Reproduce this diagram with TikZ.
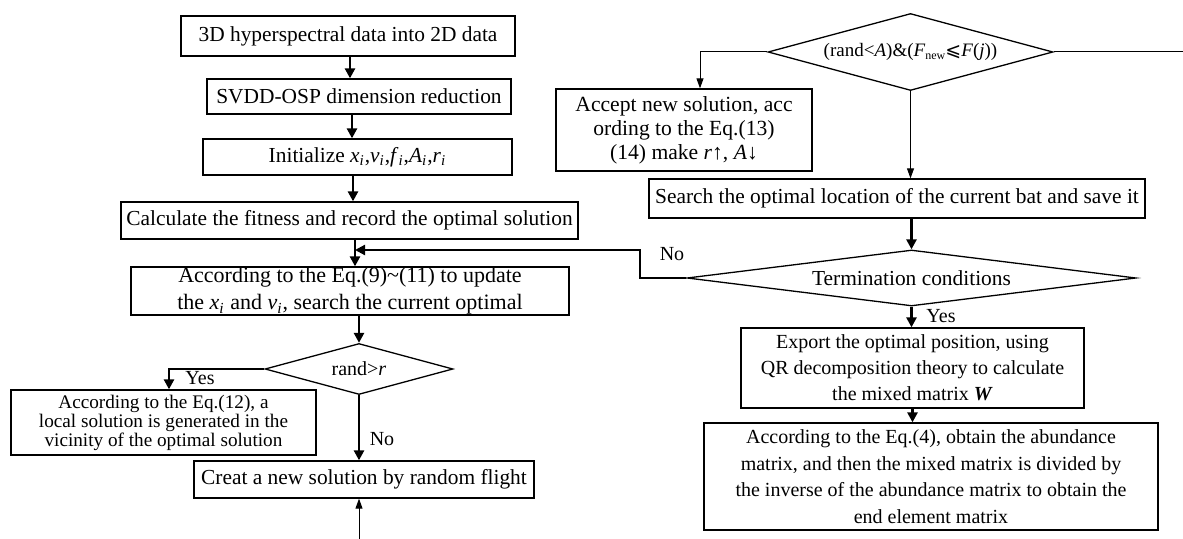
\documentclass[tikz,border=0pt]{standalone}
\usepackage{fontspec}
\setmainfont{Liberation Serif}
\newfontfamily\symfont{DejaVu Sans}
\usetikzlibrary{arrows.meta,shapes.geometric}
\newcommand{\vsub}[2]{\textit{#1}\textsubscript{\textit{#2}}}
\begin{document}
\begin{tikzpicture}[x=0.5pt,y=-0.5pt,
  box/.style={draw, line width=0.65pt, inner sep=0pt, align=center,
    font=\fontsize{10.7}{13}\selectfont},
  dia/.style={draw, diamond, line width=0.65pt, inner sep=0pt, align=center,
    font=\fontsize{10.7}{13}\selectfont},
  lbl/.style={inner sep=0pt, font=\fontsize{10}{12}\selectfont},
  thk/.style={line width=1.3pt, -{Triangle[length=5pt,width=5pt]}},
  thn/.style={line width=0.5pt, -{Triangle[length=5pt,width=3.5pt]}},
  thkline/.style={line width=1.1pt},
  thnline/.style={line width=0.5pt}]
\useasboundingbox (0,0) rectangle (1183,539);

% left column
\node[box, minimum width=167pt, minimum height=20pt] (B1) at (348,36)
  {3D hyperspectral data into 2D data};
\node[box, minimum width=152pt, minimum height=17.5pt] (B2) at (359,96.5)
  {SVDD-OSP dimension reduction};
\node[box, minimum width=154.5pt, minimum height=18pt] (B3) at (357.5,157)
  {Initialize \vsub{x}{i},\vsub{v}{i},\vsub{f}{i},\vsub{A}{i},\vsub{r}{i}};
\node[box, minimum width=228.5pt, minimum height=18.5pt] (B4) at (349.5,220.5)
  {Calculate the fitness and record the optimal solution};
\node[box, minimum width=219pt, minimum height=24pt,
  font=\fontsize{11}{13.5}\selectfont] (B5) at (350,291)
  {According to the Eq.(9)\textasciitilde(11) to update\\
   the \vsub{x}{i} and \vsub{v}{i}, search the current optimal};
\node[dia, minimum width=94pt, minimum height=25.5pt, aspect=3.7,
  font=\fontsize{10}{12}\selectfont] (D1) at (359,369)
  {rand>\textit{r}};
\node[box, minimum width=152.5pt, minimum height=32.5pt,
  font=\fontsize{9.6}{9.5}\selectfont] (B6) at (163.5,422.5)
  {According to the Eq.(12), a\\
   local solution is generated in the\\
   vicinity of the optimal solution};
\node[box, minimum width=170pt, minimum height=18.5pt] (B7) at (364,479.5)
  {Creat a new solution by random flight};

% right column
\node[dia, minimum width=142.5pt, minimum height=38.5pt, aspect=3.7,
  font=\fontsize{9.5}{11}\selectfont] (D2) at (910.5,52)
  {(rand<\textit{A})\&(\textit{F}{\fontsize{6}{7}\selectfont\raisebox{-1.5pt}{new}}{\symfont ⩽}\textit{F}(\textit{j}))};
\node[box, minimum width=128pt, minimum height=41pt,
  font=\fontsize{10.8}{12}\selectfont] (Acc) at (684,130)
  {Accept new solution, acc\\
   ording to the Eq.(13)\\
   (14) make \textit{r}↑, \textit{A}↓};
\node[box, minimum width=248pt, minimum height=19.5pt] (S) at (897,198.5)
  {Search the optimal location of the current bat and save it};
\node[dia, minimum width=224.5pt, minimum height=28pt, aspect=8] (D3) at (911.5,278)
  {Termination conditions};
\node[box, minimum width=171.5pt, minimum height=40pt,
  font=\fontsize{10}{13}\selectfont] (E) at (912.5,368)
  {Export the optimal position, using\\
   QR decomposition theory to calculate\\
   the mixed matrix \textbf{\textit{W}}};
\node[box, minimum width=227pt, minimum height=53.5pt,
  font=\fontsize{10}{13.3}\selectfont] (F) at (931,476.5)
  {According to the Eq.(4), obtain the abundance\\
   matrix, and then the mixed matrix is divided by\\
   the inverse of the abundance matrix to obtain the\\
   end element matrix};

% helper coordinates for connector columns and free ends
\coordinate (c350) at (350,0);
\coordinate (c352) at (352,0);
\coordinate (c353) at (353,0);
\coordinate (c355) at (355,0);
\coordinate (cyes) at (169,0);
\coordinate (cacc) at (700,0);
\coordinate (fb) at (640,250);
\coordinate (bot) at (359,539);
\coordinate (edge) at (1183,52);

% left column connectors
\draw[thk] (B1.south -| c350) -- (B2.north -| c350);
\draw[thk] (B2.south -| c352) -- (B3.north -| c352);
\draw[thk] (B3.south -| c353) -- (B4.north -| c353);
\draw[thk] (B4.south -| c355) -- (B5.north -| c355);
\draw[thk] (B5.south -| D1.north) -- (D1.north);
\draw[thk] (D1.west) -| (B6.north -| cyes);
\draw[thk] (D1.south) -- (D1.south |- B7.north);
\draw[thn] (bot) -- (bot |- B7.south);

% right column connectors
\draw[thnline] (D2.east) -- (edge);
\draw[thn] (D2.west) -| (Acc.north -| cacc);
\draw[thn] (D2.south) -- (D2.south |- S.north);
\draw[thk] (S.south -| D3.north) -- (D3.north);
\draw[thk] (D3.south) -- (D3.south |- E.north);
\draw[thk] (E.south) -- (E.south |- F.north);
\draw[thkline, -{Triangle[length=5pt,width=5pt]}] (D3.west) -| (fb) -- (fb -| c355);

% branch labels
\node[lbl] (y1) at (200,378) {Yes};
\node[lbl] (n1) at (382,439) {No};
\node[lbl] (n2) at (672,254) {No};
\node[lbl] (y2) at (941,316) {Yes};
\end{tikzpicture}
\end{document}
